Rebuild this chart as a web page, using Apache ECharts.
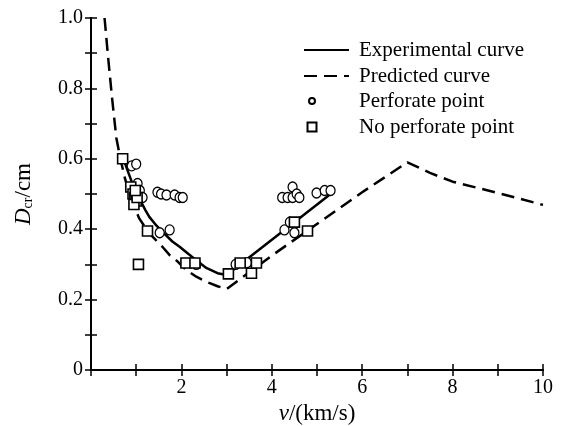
<!DOCTYPE html>
<html>
<head>
<meta charset="utf-8">
<script src="https://cdn.jsdelivr.net/npm/echarts@6/dist/echarts.min.js"></script>
<style>
html,body{margin:0;padding:0;background:#fff;}
#c{width:561px;height:426px;}
</style>
</head>
<body>
<div id="c"></div>
<script>
// ---- data ----
var experimentalV = [0.72, 0.8, 0.9, 1.0, 1.1, 1.2, 1.29, 1.45, 1.6, 1.8, 1.96, 2.15, 2.3, 2.55, 2.8, 3.0, 5.35];
var experimentalD = [0.60, 0.57, 0.535, 0.505, 0.48, 0.455, 0.435, 0.41, 0.39, 0.365, 0.35, 0.33, 0.315, 0.29, 0.275, 0.27, 0.505];

var predictedV = [0.3, 0.37, 0.46, 0.56, 0.65, 0.75, 0.85, 0.95, 1.07, 1.2, 1.35, 1.58, 1.75, 1.9, 2.1, 2.33, 2.6, 2.8, 3.0, 4.0, 5.0, 6.0, 7.0, 7.5, 8.0, 9.0, 10.0];
var predictedD = [1.0, 0.9, 0.78, 0.66, 0.6, 0.545, 0.5, 0.465, 0.43, 0.405, 0.38, 0.35, 0.325, 0.31, 0.285, 0.265, 0.248, 0.238, 0.23, 0.325, 0.415, 0.505, 0.59, 0.56, 0.535, 0.503, 0.469];

var perforateV = [0.9, 1.0, 0.95, 1.03, 1.08, 1.14, 1.47, 1.55, 1.67, 1.85, 1.96, 2.03, 1.52, 1.74, 2.33, 3.2, 3.45, 4.23, 4.35, 4.46, 4.46, 4.55, 4.61, 4.99, 5.17, 5.3, 4.28, 4.5, 4.4];
var perforateD = [0.58, 0.585, 0.52, 0.53, 0.51, 0.49, 0.505, 0.5, 0.497, 0.497, 0.49, 0.49, 0.39, 0.398, 0.3, 0.3, 0.305, 0.49, 0.49, 0.52, 0.49, 0.5, 0.49, 0.503, 0.51, 0.51, 0.398, 0.39, 0.42];

var noPerforateV = [0.7, 0.88, 0.93, 0.97, 1.0, 0.95, 1.02, 0.98, 1.05, 1.25, 2.1, 2.3, 3.04, 3.3, 3.55, 3.66, 4.5, 4.79];
var noPerforateD = [0.6, 0.52, 0.5, 0.49, 0.48, 0.47, 0.49, 0.51, 0.3, 0.395, 0.304, 0.304, 0.273, 0.304, 0.275, 0.304, 0.42, 0.395];

var xTicks = [2, 4, 6, 8, 10];
var yTicks = [0, 0.2, 0.4, 0.6, 0.8, 1.0];

function zip(a, b) { return a.map(function (v, i) { return [v, b[i]]; }); }

var FONT = 'Liberation Serif';
var chart = echarts.init(document.getElementById('c'), null, {renderer: 'canvas'});

var frameLine = {show: true, lineStyle: {color: '#000', width: 2}};
var tickStyle = {show: true, inside: true, length: 6, lineStyle: {color: '#000', width: 1.5}};
function legendText(pad) {
  return {fontFamily: FONT, fontSize: 21, color: '#000', lineHeight: 26, padding: [0, 0, 0, pad]};
}

chart.setOption({
  animation: false,
  backgroundColor: '#fff',
  grid: {left: 91, right: 18, top: 18, bottom: 56, containLabel: false, outerBoundsMode: 'none'},
  legend: [
    {
      data: ['Experimental curve', 'Predicted curve'],
      orient: 'vertical', left: 303, top: 37, padding: 0,
      itemWidth: 45, itemHeight: 14, itemGap: 0,
      itemStyle: {opacity: 0},
      textStyle: legendText(5)
    },
    {
      data: ['Perforate point'],
      orient: 'vertical', left: 308, top: 88, padding: 0,
      itemWidth: 6, itemHeight: 8, itemGap: 0,
      textStyle: legendText(39)
    },
    {
      data: ['No perforate point'],
      orient: 'vertical', left: 306.5, top: 114, padding: 0,
      itemWidth: 9, itemHeight: 9, itemGap: 0,
      textStyle: legendText(37.5)
    }
  ],
  xAxis: [
    {
      type: 'value', min: 0, max: 10, interval: 1,
      name: '{i|v}/(km/s)', nameLocation: 'middle', nameGap: 32,
      nameTextStyle: {fontFamily: FONT, fontSize: 23, color: '#000',
        rich: {i: {fontFamily: FONT, fontSize: 23, fontStyle: 'italic', color: '#000'}}},
      axisLine: frameLine, axisTick: tickStyle,
      axisLabel: {fontFamily: FONT, fontSize: 20, color: '#000', margin: 8,
        formatter: function (v) { return xTicks.indexOf(v) >= 0 ? String(v) : ''; }},
      splitLine: {show: false}
    },
    {
      type: 'value', min: 0, max: 10, interval: 1, position: 'top',
      axisLine: frameLine, axisTick: tickStyle, axisLabel: {show: false}, splitLine: {show: false}
    }
  ],
  yAxis: [
    {
      type: 'value', min: 0, max: 1.0, interval: 0.1,
      name: '{i|D}{s|cr}/cm', nameLocation: 'middle', nameGap: 56, nameRotate: 90,
      nameTextStyle: {fontFamily: FONT, fontSize: 23, color: '#000',
        rich: {
          i: {fontFamily: FONT, fontSize: 23, fontStyle: 'italic', color: '#000'},
          s: {fontFamily: FONT, fontSize: 14, color: '#000', verticalAlign: 'bottom', padding: [9, 0, 0, 0]}
        }},
      axisLine: frameLine, axisTick: tickStyle,
      axisLabel: {fontFamily: FONT, fontSize: 20, color: '#000', margin: 8,
        formatter: function (v) {
          for (var k = 0; k < yTicks.length; k++) {
            if (Math.abs(yTicks[k] - v) < 1e-6) return v === 0 ? '0' : yTicks[k].toFixed(1);
          }
          return '';
        }},
      splitLine: {show: false}
    },
    {
      type: 'value', min: 0, max: 1.0, interval: 0.1, position: 'right',
      axisLine: frameLine, axisTick: tickStyle, axisLabel: {show: false}, splitLine: {show: false}
    }
  ],
  series: [
    {
      name: 'Experimental curve', type: 'line', smooth: false, symbol: 'none',
      data: zip(experimentalV, experimentalD),
      lineStyle: {color: '#000', width: 2.5, type: 'solid'},
      itemStyle: {color: '#000'}, z: 3
    },
    {
      name: 'Predicted curve', type: 'line', smooth: false, symbol: 'none',
      data: zip(predictedV, predictedD),
      lineStyle: {color: '#000', width: 2.5, type: [13, 7]},
      itemStyle: {color: '#000'}, z: 3
    },
    {
      name: 'Perforate point', type: 'scatter', symbol: 'circle', symbolSize: [9, 10],
      data: zip(perforateV, perforateD),
      itemStyle: {color: '#fff', borderColor: '#000', borderWidth: 1.3, opacity: 1}, z: 4
    },
    {
      name: 'No perforate point', type: 'scatter', symbol: 'rect', symbolSize: 10,
      data: zip(noPerforateV, noPerforateD),
      itemStyle: {color: '#fff', borderColor: '#000', borderWidth: 1.6, opacity: 1}, z: 5
    }
  ]
});
</script>
</body>
</html>
